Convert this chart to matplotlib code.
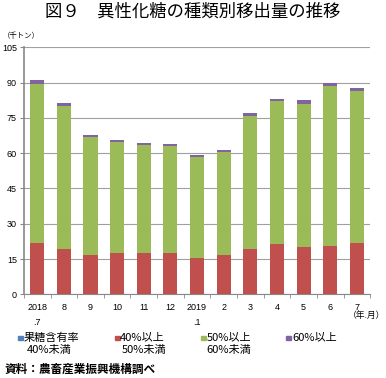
import matplotlib
matplotlib.use("Agg")
import matplotlib.pyplot as plt
from matplotlib.patches import Rectangle
import numpy as np

plt.rcParams['font.family'] = ['Noto Sans CJK JP', 'DejaVu Sans']

months = ["2018\n.7", "8", "9", "10", "11", "12", "2019\n.1", "2", "3", "4", "5", "6", "7"]
s_lt40 = [0, 0, 0, 0, 0, 0, 0, 0, 0, 0, 0, 0, 0]
s_40_50 = [22.0, 19.3, 16.6, 17.7, 17.7, 17.7, 15.6, 16.9, 19.4, 21.6, 20.0, 20.7, 21.8]
s_50_60 = [67.5, 60.7, 50.3, 47.1, 45.8, 45.5, 42.8, 43.6, 56.5, 60.4, 61.0, 67.8, 64.5]
s_ge60 = [1.5, 1.4, 0.7, 0.7, 0.7, 0.7, 0.9, 0.9, 1.1, 1.2, 1.5, 1.3, 1.3]
series_labels = ["果糖含有率\n40%未満", "40%以上\n50%未満", "50%以上\n60%未満", "60%以上"]
colors = ["#4F81BD", "#C0504D", "#9BBB59", "#8064A2"]
yticks = [0, 15, 30, 45, 60, 75, 90, 105]

fig = plt.figure(figsize=(3.86, 3.78), dpi=100)
ax = fig.add_axes([0.062, 0.2214, 0.897, 0.6532])

x = np.arange(len(months))
bottom = np.zeros(len(months))
for vals, c in zip([s_lt40, s_40_50, s_50_60, s_ge60], colors):
    ax.bar(x, vals, 0.53, bottom=bottom, color=c, zorder=3)
    bottom += np.array(vals)

ax.set_ylim(0, 105)
ax.set_xlim(-0.5, len(months) - 0.5)
ax.set_yticks(yticks)
ax.set_yticklabels([str(v) for v in yticks], fontsize=6.5, family=['Liberation Sans'])
ax.yaxis.grid(True, color="#a0a0a0", linewidth=0.8, zorder=0)
ax.set_xticks(x)
ax.set_xticklabels(months, fontsize=6.5, family=['Liberation Sans'], linespacing=1.9, va='top')
ax.set_xticks(np.arange(-0.5, len(months), 1), minor=True)
ax.tick_params(axis='x', which='major', length=0, pad=6)
ax.tick_params(axis='x', which='minor', length=3, color="#888888")
ax.tick_params(axis='y', length=3, color="#888888", pad=2)
for s in ['top', 'right']:
    ax.spines[s].set_visible(False)
ax.spines['left'].set_color("#888888")
ax.spines['left'].set_linewidth(1.2)
ax.spines['bottom'].set_color("#888888")

fig.text(0.5, 0.968, "図９　異性化糖の種類別移出量の推移", ha='center', va='center', fontsize=12.5)
fig.text(0.008, 1 - 36 / 378, "（千トン）", ha='left', va='center', fontsize=5.3)
fig.text(0.998, 1 - 315 / 378, "（年.月）", ha='right', va='center', fontsize=6.3)

sq_x = [18, 115, 201, 286]
tx_x = [24, 120, 206.5, 292]
tx2_x = [27, 122, 206.5, 292]
for sx, tx, tx2, lab, c in zip(sq_x, tx_x, tx2_x, series_labels, colors):
    fig.patches.append(Rectangle((sx / 386, 1 - 340.0 / 378), 4.5 / 386, 4.5 / 378,
                                 transform=fig.transFigure, color=c, figure=fig))
    lines = lab.split("\n")
    fig.text(tx / 386, 1 - 337.5 / 378, lines[0], ha='left', va='center', fontsize=8)
    if len(lines) > 1:
        fig.text(tx2 / 386, 1 - 349.5 / 378, lines[1], ha='left', va='center', fontsize=8)

fig.text(0.011, 1 - 369 / 378, "資料：農畜産業振興機構調べ", ha='left', va='center', fontsize=8.4, weight='bold')

fig.savefig("out.png", dpi=100)
